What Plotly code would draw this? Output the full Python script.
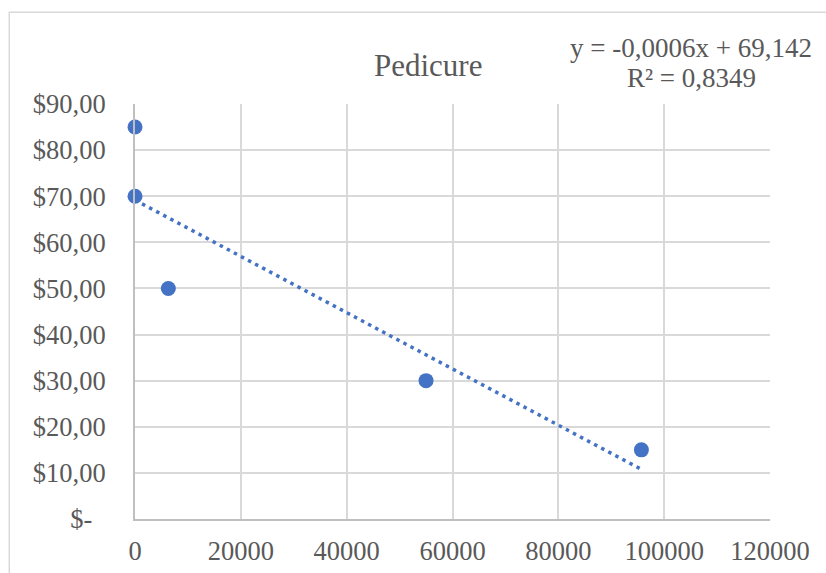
import numpy as np
import plotly.graph_objects as go

# Data
reach = [0, 0, 6300, 55000, 95700]
price = [85, 70, 50, 30, 15]
x_ticks = [0, 20000, 40000, 60000, 80000, 100000, 120000]
y_ticks = [0, 10, 20, 30, 40, 50, 60, 70, 80, 90]
y_labels = ["$-\u00a0\u00a0", "$10,00", "$20,00", "$30,00", "$40,00", "$50,00",
            "$60,00", "$70,00", "$80,00", "$90,00"]
title_text = "Pedicure"
eq_line1 = "y = -0,0006x + 69,142"
eq_line2 = "R² = 0,8349"

BLUE = "#4472c4"
GRID = "#d9d9d9"
TXT = "#595959"
FONT = "Liberation Serif, Times New Roman, serif"

# Linear trendline (least squares)
slope, intercept = np.polyfit(reach, price, 1)
tx = np.array([min(reach), max(reach)])
ty = slope * tx + intercept

fig = go.Figure()
fig.add_trace(go.Scatter(
    x=tx, y=ty, mode="lines",
    line=dict(color=BLUE, width=3.5, dash="3.5px,4.5px"),
    hoverinfo="skip", showlegend=False, cliponaxis=False,
))
fig.add_trace(go.Scatter(
    x=reach, y=price, mode="markers",
    marker=dict(color=BLUE, size=15),
    showlegend=False, cliponaxis=False,
))

fig.update_layout(
    width=826, height=573,
    margin=dict(l=135, r=56, t=104, b=54, autoexpand=False),
    paper_bgcolor="white", plot_bgcolor="white",
    font=dict(family=FONT, color=TXT, size=26),
    xaxis=dict(
        range=[0, 120000], tickvals=x_ticks, ticktext=[str(v) for v in x_ticks],
        showgrid=True, gridcolor=GRID, gridwidth=2,
        showline=True, linecolor="#bfbfbf", linewidth=2,
        zeroline=False, ticks="", ticklabelstandoff=7, automargin=False,
        tickfont=dict(size=26.5, color=TXT, family=FONT),
    ),
    yaxis=dict(
        range=[0, 90], tickvals=y_ticks, ticktext=y_labels,
        showgrid=True, gridcolor=GRID, gridwidth=2,
        showline=True, linecolor="#bfbfbf", linewidth=2,
        zeroline=False, ticks="", ticklabelstandoff=22, automargin=False,
        tickfont=dict(size=26.5, color=TXT, family=FONT),
    ),
    shapes=[dict(
        type="rect", xref="paper", yref="paper",
        x0=-0.198, x1=1.3, y0=-0.4, y1=1.221,
        line=dict(color=GRID, width=1.5), fillcolor="rgba(0,0,0,0)", layer="below",
    )],
    annotations=[
        dict(text=title_text, xref="paper", yref="paper",
             x=(428 - 135) / 635, y=(519 - 65) / 415, xanchor="center", yanchor="middle",
             showarrow=False, font=dict(size=31, color=TXT, family=FONT)),
        dict(text=eq_line1, xref="paper", yref="paper",
             x=(691 - 135) / 635, y=(519 - 48) / 415, xanchor="center", yanchor="middle",
             showarrow=False, font=dict(size=27, color=TXT, family=FONT)),
        dict(text=eq_line2, xref="paper", yref="paper",
             x=(691 - 135) / 635, y=(519 - 78) / 415, xanchor="center", yanchor="middle",
             showarrow=False, font=dict(size=27, color=TXT, family=FONT)),
    ],
)

fig.write_html("out.html")
